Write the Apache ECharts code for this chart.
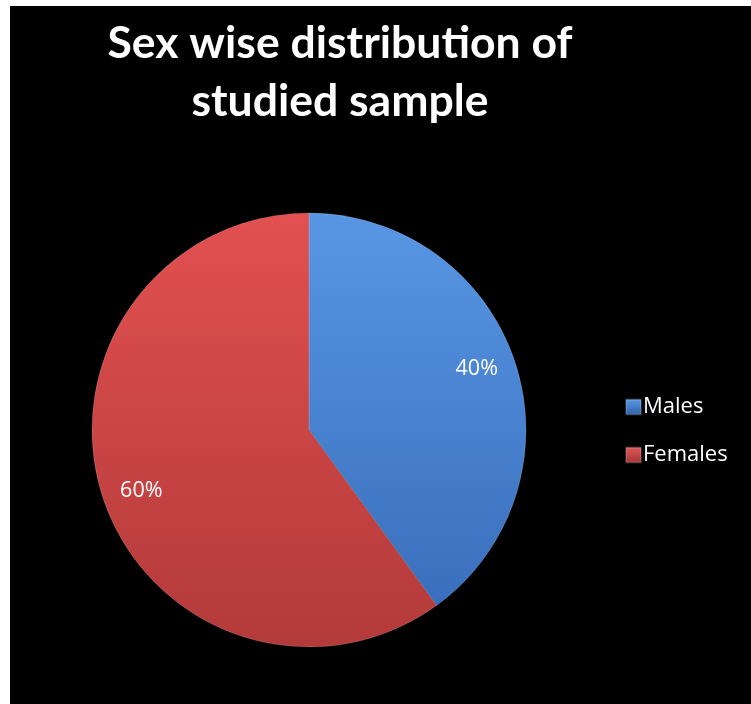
<!DOCTYPE html>
<html><head><meta charset="utf-8">
<script src="https://cdn.jsdelivr.net/npm/echarts@6/dist/echarts.min.js"></script>
<style>html,body{margin:0;padding:0;background:#fff}#c{width:751px;height:704px}</style>
</head><body><div id="c"></div>
<script>
var categories = ['Males', 'Females'];
var values = [40, 60];
var titleText = 'Sex wise distribution of\nstudied sample';

var colors = [
  new echarts.graphic.LinearGradient(0, 0, 0, 1, [{offset:0,color:'#5896e4'},{offset:1,color:'#3a6fbd'}]),
  new echarts.graphic.LinearGradient(0, 0, 0, 1, [{offset:0,color:'#e25050'},{offset:1,color:'#b33a3a'}])
];
var legendColors = [
  new echarts.graphic.LinearGradient(0, 0, 0, 1, [{offset:0,color:'#5a9be6'},{offset:1,color:'#2f5fa6'}]),
  new echarts.graphic.LinearGradient(0, 0, 0, 1, [{offset:0,color:'#e05a5a'},{offset:1,color:'#a33232'}])
];
var data = categories.map(function(c, i){ return {name: c, value: values[i], itemStyle:{color: colors[i]}}; });
var labelData = categories.map(function(c, i){ return {name: c, value: values[i]}; });

var chart = echarts.init(document.getElementById('c'));
chart.setOption({
  backgroundColor: '#ffffff',
  animation: false,
  graphic: [{type:'rect', left:10, top:6, shape:{width:741, height:698}, style:{fill:'#000'}, z:-10}],
  title: {
    text: titleText, left: 335, top: 10, textAlign: 'center',
    textStyle: {color:'#fff', fontFamily:'Lato', fontWeight:'bold', fontSize:44.5, lineHeight:58}
  },
  legend: {
    orient: 'vertical', left: 620, top: 391, itemWidth: 15, itemHeight: 15, itemGap: 26,
    icon: 'rect',
    data: categories.map(function(c, i){ return {name: c, itemStyle:{color: legendColors[i]}}; }),
    textStyle: {color:'#fff', fontSize:22, lineHeight:22, fontFamily:'Open Sans', padding:[0,0,0,-3]}
  },
  series: [{
    type: 'pie', center: [309, 430], radius: 217, startAngle: 90, clockwise: true,
    data: data, label: {show:false}, labelLine:{show:false},
    itemStyle: {borderColor:'rgba(255,255,255,0.15)', borderWidth:1},
    emphasis: {disabled:true}
  }, {
    type: 'pie', center: [309, 430], radius: [134, 217], startAngle: 92, clockwise: true,
    data: labelData, silent: true,
    itemStyle: {color:'rgba(0,0,0,0)'},
    label: {show:true, position:'inside', formatter:'{c}%', color:'#fff', fontSize:21.5, fontFamily:'Open Sans'},
    labelLine:{show:false}, emphasis:{disabled:true}
  }]
});
</script></body></html>
